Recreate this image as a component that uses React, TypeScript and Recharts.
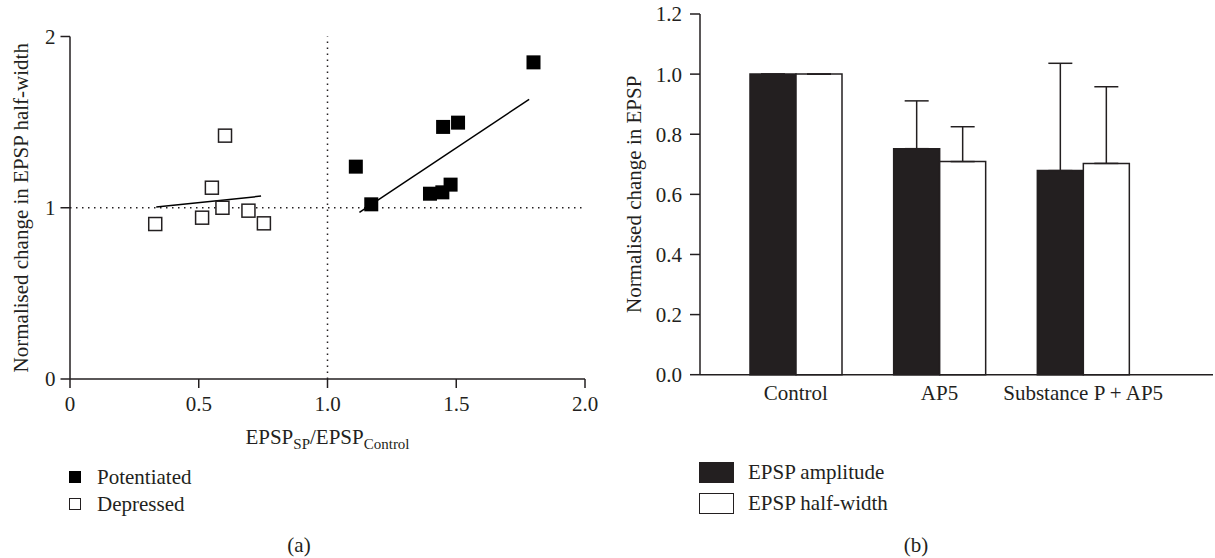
import React from 'react';
import {
  ScatterChart,
  Scatter,
  XAxis,
  YAxis,
  ReferenceLine,
  BarChart,
  Bar,
  ErrorBar,
  Legend,
  Label,
} from 'recharts';

const FONT = '"Liberation Serif", "Times New Roman", serif';
const INK = '#231f20';

// ---- Panel (a): scatter ----
const potX = [1.11, 1.17, 1.398, 1.446, 1.478, 1.449, 1.507, 1.8];
const potY = [1.24, 1.02, 1.082, 1.09, 1.135, 1.472, 1.497, 1.849];
const depX = [0.331, 0.513, 0.551, 0.602, 0.592, 0.693, 0.753];
const depY = [0.905, 0.942, 1.117, 1.421, 1.0, 0.983, 0.909];
const potFitX = [1.124, 1.783];
const potFitY = [0.973, 1.633];
const depFitX = [0.335, 0.742];
const depFitY = [1.004, 1.068];
const scatterXTicks = [0, 0.5, 1, 1.5, 2];
const scatterXTickLabels = ['0', '0.5', '1.0', '1.5', '2.0'];
const scatterYTicks = [0, 1, 2];
const scatterYTickLabels = ['0', '1', '2'];
const legendA = ['Potentiated', 'Depressed'];

// ---- Panel (b): bars ----
const categories = ['Control', 'AP5', 'Substance P + AP5'];
const amplitude = [1.0, 0.752, 0.679];
const halfWidth = [1.0, 0.709, 0.703];
const amplitudeErr = [0, 0.159, 0.357];
const halfWidthErr = [0, 0.116, 0.255];
const barYTicks = [0, 0.2, 0.4, 0.6, 0.8, 1.0, 1.2];
const legendB = ['EPSP amplitude', 'EPSP half-width'];

const zip = (xs: number[], ys: number[]) => xs.map((x, i) => ({ x, y: ys[i] }));
const potData = zip(potX, potY);
const depData = zip(depX, depY);
const potFit = zip(potFitX, potFitY);
const depFit = zip(depFitX, depFitY);

const barData = categories.map((name, i) => ({
  name,
  amp: amplitude[i],
  hw: halfWidth[i],
  ampErr: [0, amplitudeErr[i]],
  hwErr: [0, halfWidthErr[i]],
}));

const tickStyle = { fill: INK, fontSize: 21, fontFamily: FONT };
const lineStyle = { stroke: INK, strokeWidth: 1.5 };

const FilledSquare = (props: any) => {
  const { cx, cy } = props;
  return <rect x={cx - 7} y={cy - 7} width={14} height={14} fill="#000" />;
};
const OpenSquare = (props: any) => {
  const { cx, cy } = props;
  return (
    <rect x={cx - 6.5} y={cy - 6.5} width={13} height={13} fill="#fff" stroke={INK} strokeWidth={1.5} />
  );
};
const NoShape = () => <g />;

const scatterXLabel = (props: any) => {
  const vb = props.viewBox || { x: 0, y: 0, width: 0, height: 0 };
  const cx = vb.x + vb.width / 2;
  const y = vb.y + 65;
  return (
    <text x={cx} y={y} textAnchor="middle" fontFamily={FONT} fontSize={21} fill={INK}>
      <tspan>EPSP</tspan>
      <tspan fontSize={15} dy={5}>SP</tspan>
      <tspan dy={-5}>/EPSP</tspan>
      <tspan fontSize={15} dy={5}>Control</tspan>
    </text>
  );
};

const makeYLabel = (text: string, dx: number) => (props: any) => {
  const vb = props.viewBox || { x: 0, y: 0, width: 0, height: 0 };
  const x = vb.x + dx;
  const y = vb.y + vb.height / 2;
  return (
    <text
      x={x}
      y={y}
      textAnchor="middle"
      dominantBaseline="central"
      transform={`rotate(-90 ${x} ${y})`}
      fontFamily={FONT}
      fontSize={21}
      fill={INK}
    >
      {text}
    </text>
  );
};

const legendAContent = () => (
  <div style={{ fontFamily: FONT, fontSize: 21, color: INK }}>
    {legendA.map((name, i) => (
      <div key={name} style={{ display: 'flex', alignItems: 'center', height: 27, whiteSpace: 'nowrap' }}>
        <div
          style={{
            width: i === 0 ? 12 : 10,
            height: i === 0 ? 12 : 10,
            background: i === 0 ? '#000' : '#fff',
            border: i === 0 ? 'none' : `1.5px solid ${INK}`,
            marginRight: 16,
          }}
        />
        <span>{name}</span>
      </div>
    ))}
  </div>
);

const legendBContent = () => (
  <div style={{ fontFamily: FONT, fontSize: 21, color: INK }}>
    {legendB.map((name, i) => (
      <div key={name} style={{ display: 'flex', alignItems: 'center', height: 31, whiteSpace: 'nowrap' }}>
        <div
          style={{
            width: 33,
            height: 19,
            background: i === 0 ? INK : '#fff',
            border: `1.5px solid ${INK}`,
            marginRight: 14,
          }}
        />
        <span>{name}</span>
      </div>
    ))}
  </div>
);

const panelLabel = (text: string, cx: number) => (
  <div
    style={{
      position: 'absolute',
      left: cx - 40,
      top: 531,
      width: 80,
      height: 28,
      lineHeight: '28px',
      textAlign: 'center',
      fontFamily: FONT,
      fontSize: 21,
      color: INK,
    }}
  >
    {text}
  </div>
);

export default function App() {
  return (
    <div style={{ position: 'absolute', left: 0, top: 0, width: 1215, height: 558, background: '#fff', overflow: 'hidden' }}>
      <div style={{ position: 'absolute', left: 0, top: 0 }}>
        <ScatterChart width={600} height={558} margin={{ top: 36.5, right: 15, bottom: 149, left: 0 }}>
          <XAxis
            type="number"
            dataKey="x"
            domain={[0, 2]}
            ticks={scatterXTicks}
            interval={0}
            tickFormatter={(v: number) => scatterXTickLabels[scatterXTicks.indexOf(v)]}
            tickSize={9}
            tickMargin={8}
            axisLine={lineStyle}
            tickLine={lineStyle}
            tick={tickStyle}
            height={30}
          >
            <Label content={scatterXLabel} />
          </XAxis>
          <YAxis
            type="number"
            dataKey="y"
            domain={[0, 2]}
            ticks={scatterYTicks}
            interval={0}
            tickFormatter={(v: number) => scatterYTickLabels[scatterYTicks.indexOf(v)]}
            tickSize={9.5}
            tickMargin={5}
            axisLine={lineStyle}
            tickLine={lineStyle}
            tick={tickStyle}
            width={70}
          >
            <Label content={makeYLabel('Normalised change in EPSP half-width', 21)} />
          </YAxis>
          <ReferenceLine y={1} stroke={INK} strokeWidth={1.5} strokeDasharray="1.5 4.5" />
          <ReferenceLine x={1} stroke={INK} strokeWidth={1.5} strokeDasharray="1.5 4.5" />
          <Scatter data={depFit} line={{ stroke: '#000', strokeWidth: 1.5 }} shape={NoShape} legendType="none" isAnimationActive={false} />
          <Scatter data={potFit} line={{ stroke: '#000', strokeWidth: 1.5 }} shape={NoShape} legendType="none" isAnimationActive={false} />
          <Scatter name="Depressed" data={depData} shape={OpenSquare} isAnimationActive={false} />
          <Scatter name="Potentiated" data={potData} shape={FilledSquare} isAnimationActive={false} />
          <Legend
            layout="vertical"
            align="center"
            verticalAlign="middle"
            content={legendAContent}
            wrapperStyle={{ left: 69, top: 463.5, width: 200, height: 54 }}
          />
        </ScatterChart>
      </div>
      {panelLabel('(a)', 299)}

      <div style={{ position: 'absolute', left: 600, top: 0 }}>
        <BarChart
          width={615}
          height={558}
          data={barData}
          barGap={0}
          margin={{ top: 14, right: 2, bottom: 153.3, left: 0 }}
        >
          <XAxis
            dataKey="name"
            padding={{ left: 24, right: 58 }}
            interval={0}
            tickLine={false}
            tickSize={6}
            tickMargin={4}
            axisLine={lineStyle}
            tick={tickStyle}
            height={30}
          />
          <YAxis
            type="number"
            domain={[0, 1.2]}
            ticks={barYTicks}
            interval={0}
            tickFormatter={(v: number) => v.toFixed(1)}
            tickSize={10}
            tickMargin={8}
            axisLine={lineStyle}
            tickLine={lineStyle}
            tick={tickStyle}
            width={100}
          >
            <Label content={makeYLabel('Normalised change in EPSP', 34)} />
          </YAxis>
          <Bar dataKey="amp" name="EPSP amplitude" barSize={46} fill={INK} stroke={INK} strokeWidth={1.5} isAnimationActive={false}>
            <ErrorBar dataKey="ampErr" direction="y" width={12} stroke={INK} strokeWidth={1.5} />
          </Bar>
          <Bar dataKey="hw" name="EPSP half-width" barSize={46} fill="#fff" stroke={INK} strokeWidth={1.5} isAnimationActive={false}>
            <ErrorBar dataKey="hwErr" direction="y" width={12} stroke={INK} strokeWidth={1.5} />
          </Bar>
          <Legend
            layout="vertical"
            align="center"
            verticalAlign="middle"
            content={legendBContent}
            wrapperStyle={{ left: 99, top: 456.5, width: 260, height: 62 }}
          />
        </BarChart>
      </div>
      {panelLabel('(b)', 916)}
    </div>
  );
}
